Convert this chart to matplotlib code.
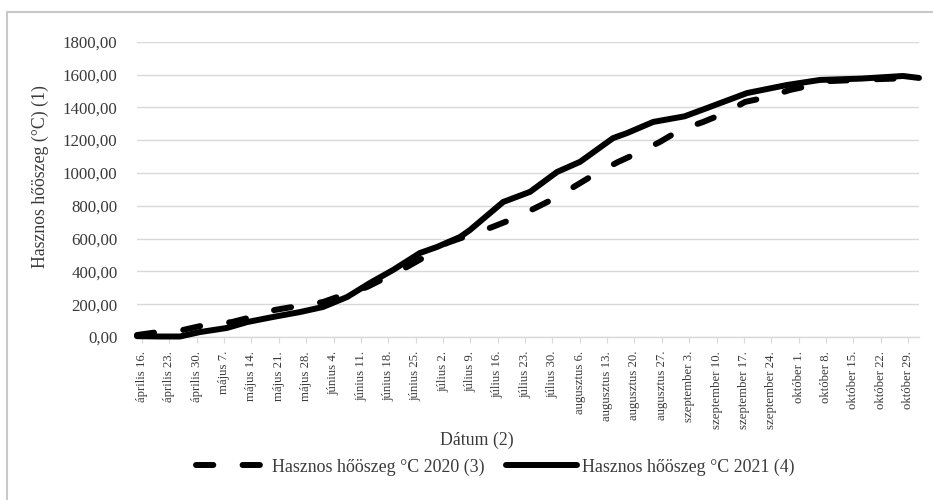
import matplotlib
matplotlib.use("Agg")
import matplotlib.pyplot as plt
from matplotlib.patches import Rectangle

plt.rcParams['font.family'] = ['Liberation Serif', 'DejaVu Serif']

# Days counted from April 16
days_2020 = [-1.3, 4.1, 10.5, 16.1, 23.0, 28.1, 34.0, 39.9, 46.3, 51.4, 57.6, 62.7,
             67.8, 73.2, 78.0, 83.9, 89.6, 95.4, 100.6, 106.2, 111.3, 116.4, 121.8,
             127.4, 132.5, 137.7, 143.6, 149.2, 154.3, 160.2, 165.8, 171.7, 176.0,
             186.0, 198.8]
heat_2020 = [12, 30, 43, 73, 91, 122, 165, 189, 213, 256, 305, 366,
             427, 500, 573, 622, 670, 725, 786, 853, 927, 1000, 1067,
             1128, 1189, 1262, 1311, 1366, 1433, 1463, 1506, 1536, 1560,
             1570, 1580]

days_2021 = [-1.3, 4.6, 9.7, 14.8, 21.7, 26.9, 33.5, 40.4, 46.3, 52.5, 58.3, 64.2,
             71.1, 75.5, 81.4, 83.9, 92.4, 99.3, 106.2, 112.1, 120.5, 124.1, 130.8,
             138.8, 144.6, 154.8, 165.0, 173.5, 184.0, 194.7, 198.8]
heat_2021 = [5, 3, 3, 30, 55, 91, 122, 152, 183, 244, 329, 408,
             512, 549, 610, 652, 823, 885, 1006, 1068, 1212, 1243, 1311,
             1345, 1396, 1487, 1536, 1567, 1575, 1591, 1579]

tick_days = list(range(0, 197, 7))
tick_labels = ["április 16.", "április 23.", "április 30.", "május 7.", "május 14.",
               "május 21.", "május 28.", "június 4.", "június 11.", "június 18.",
               "június 25.", "július 2.", "július 9.", "július 16.", "július 23.",
               "július 30.", "augusztus 6.", "augusztus 13.", "augusztus 20.",
               "augusztus 27.", "szeptember 3.", "szeptember 10.", "szeptember 17.",
               "szeptember 24.", "október 1.", "október 8.", "október 15.",
               "október 22.", "október 29."]
y_ticks = [0, 200, 400, 600, 800, 1000, 1200, 1400, 1600, 1800]

label_2020 = "Hasznos hőöszeg °C 2020 (3)"
label_2021 = "Hasznos hőöszeg °C 2021 (4)"

W, H = 933, 500
fig = plt.figure(figsize=(W / 100, H / 100), dpi=100)
ax = fig.add_axes([137 / W, 1 - 337 / H, (919 - 137) / W, (337 - 41.7) / H])

text_c = '#3a3a3a'
grid_c = '#d9d9d9'
lw = 4.3

ax.plot(days_2020, heat_2020, color='black', lw=lw, linestyle=(0, (2.9, 4.9)),
        dash_capstyle='round', dash_joinstyle='round', label=label_2020,
        zorder=3, clip_on=False)
ax.plot(days_2021, heat_2021, color='black', lw=lw, solid_capstyle='round',
        solid_joinstyle='round', label=label_2021, zorder=4, clip_on=False)

ax.set_xlim(-1.28, 198.8)
ax.set_ylim(0, 1800)
ax.set_yticks(y_ticks)
ax.set_yticklabels([f"{v:.2f}".replace('.', ',') for v in y_ticks])
ax.set_xticks(tick_days)
ax.set_xticklabels(tick_labels, rotation=90, va='top', ha='center')

ax.tick_params(axis='y', length=0, pad=14, labelsize=12.2, labelcolor=text_c)
ax.tick_params(axis='x', length=4, width=0.8, color=grid_c, pad=6,
               labelsize=9.2, labelcolor=text_c)
ax.grid(axis='y', color=grid_c, lw=1)
ax.set_axisbelow(True)
for side in ['top', 'right', 'left']:
    ax.spines[side].set_visible(False)
ax.spines['bottom'].set_color(grid_c)
ax.spines['bottom'].set_linewidth(1)

fig.text(40 / W, 1 - 177 / H, "Hasznos hőöszeg (°C) (1)", rotation=90,
         ha='center', va='center', fontsize=12.8, color=text_c)
fig.text(477 / W, 1 - 440 / H, "Dátum (2)", ha='center', va='center',
         fontsize=12.8, color=text_c)

fig.legend(loc='center', bbox_to_anchor=(495 / W, 1 - 467 / H), ncol=2,
           frameon=False, fontsize=12.9, handlelength=4.0, handletextpad=0.25,
           columnspacing=1.2, labelcolor=text_c)

# outer chart border
fig.patches.append(Rectangle((7 / W, -0.1), 1.2, 1 - 12 / H + 0.1,
                             transform=fig.transFigure, fill=False,
                             edgecolor='#c8c8c8', lw=1.5))

fig.savefig("out.png", dpi=100)
